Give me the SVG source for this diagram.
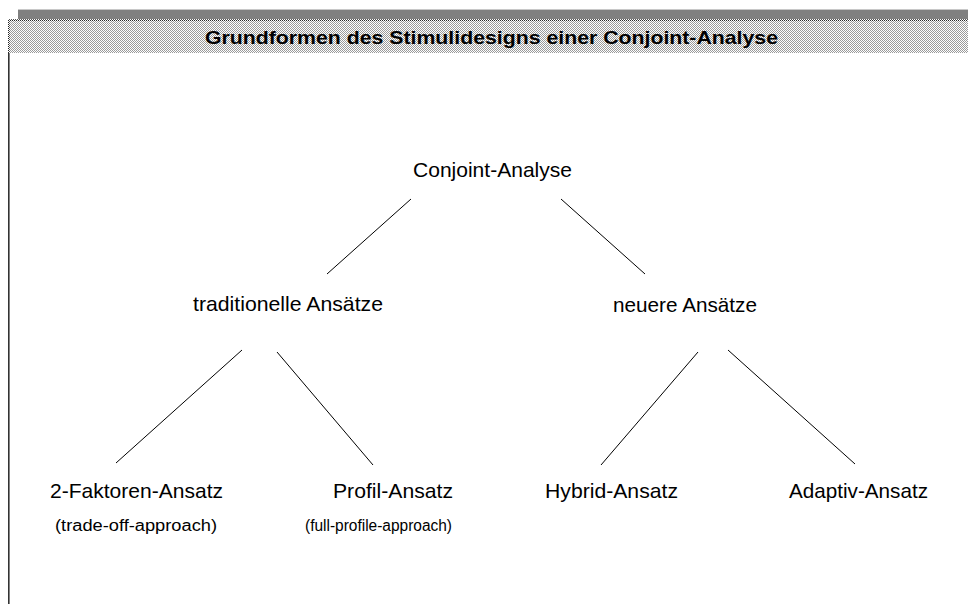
<svg xmlns="http://www.w3.org/2000/svg" width="968" height="604" viewBox="0 0 968 604">
  <defs>
    <pattern id="hatch" x="0" y="0" width="2" height="2" patternUnits="userSpaceOnUse">
      <rect width="2" height="2" fill="#ffffff"/>
      <rect x="0" y="0" width="1" height="1" fill="#9a9a9a"/>
      <rect x="1" y="1" width="1" height="1" fill="#9a9a9a"/>
    </pattern>
    <pattern id="dots" x="0" y="0" width="2" height="2" patternUnits="userSpaceOnUse">
      <rect width="2" height="2" fill="#ffffff"/>
      <rect x="0" y="0" width="1" height="1" fill="#222"/>
      <rect x="1" y="1" width="1" height="1" fill="#555"/>
    </pattern>
  </defs>
  <style>
    .node { font-family: "Liberation Sans", Arial, sans-serif; fill: #000; }
    .main { font-size: 21px; }
    .sub { font-size: 16px; }
    .title { font-family: "Liberation Sans", Arial, sans-serif; font-size: 19px; font-weight: bold; fill: #000; }
    .conn line { stroke: #000; stroke-width: 1; fill: none; }
  </style>
  <rect width="968" height="604" fill="#ffffff"/>
  <g id="frame">
    <rect x="18" y="9" width="950" height="1" fill="#c8c8c8"/>
    <rect x="18" y="10" width="950" height="9" fill="#808080"/>
    <rect x="8" y="19" width="960" height="34" fill="url(#hatch)"/>
    <rect x="8" y="19" width="960" height="2" fill="url(#dots)"/>
    <rect x="8" y="19" width="2" height="34" fill="url(#dots)"/>
    <rect x="8" y="53" width="1.6" height="551" fill="#333"/>
  </g>
  <g id="title">
    <text class="title" x="205" y="44" textLength="573" lengthAdjust="spacingAndGlyphs">Grundformen des Stimulidesigns einer Conjoint-Analyse</text>
  </g>
  <g id="conn" class="conn">
    <line x1="411" y1="199" x2="327" y2="274"/>
    <line x1="561" y1="199" x2="645" y2="274"/>
    <line x1="242" y1="350" x2="116" y2="463"/>
    <line x1="277" y1="352" x2="373" y2="465"/>
    <line x1="698" y1="352" x2="601" y2="465"/>
    <line x1="728" y1="350" x2="855" y2="464"/>
  </g>
  <g id="n-root">
    <text class="node main" x="413" y="177" textLength="159" lengthAdjust="spacingAndGlyphs">Conjoint-Analyse</text>
  </g>
  <g id="n-trad">
    <text class="node main" x="193" y="311" textLength="190" lengthAdjust="spacingAndGlyphs">traditionelle Ansätze</text>
  </g>
  <g id="n-neu">
    <text class="node main" x="613" y="312" textLength="144" lengthAdjust="spacingAndGlyphs">neuere Ansätze</text>
  </g>
  <g id="n-2f">
    <text class="node main" x="50" y="498" textLength="173" lengthAdjust="spacingAndGlyphs">2-Faktoren-Ansatz</text>
    <text class="node sub" x="55" y="531" textLength="162" lengthAdjust="spacingAndGlyphs">(trade-off-approach)</text>
  </g>
  <g id="n-profil">
    <text class="node main" x="333" y="498" textLength="120" lengthAdjust="spacingAndGlyphs">Profil-Ansatz</text>
    <text class="node sub" x="305" y="531" textLength="147" lengthAdjust="spacingAndGlyphs">(full-profile-approach)</text>
  </g>
  <g id="n-hybrid">
    <text class="node main" x="545" y="498" textLength="133" lengthAdjust="spacingAndGlyphs">Hybrid-Ansatz</text>
  </g>
  <g id="n-adaptiv">
    <text class="node main" x="789" y="498" textLength="139" lengthAdjust="spacingAndGlyphs">Adaptiv-Ansatz</text>
  </g>
</svg>
